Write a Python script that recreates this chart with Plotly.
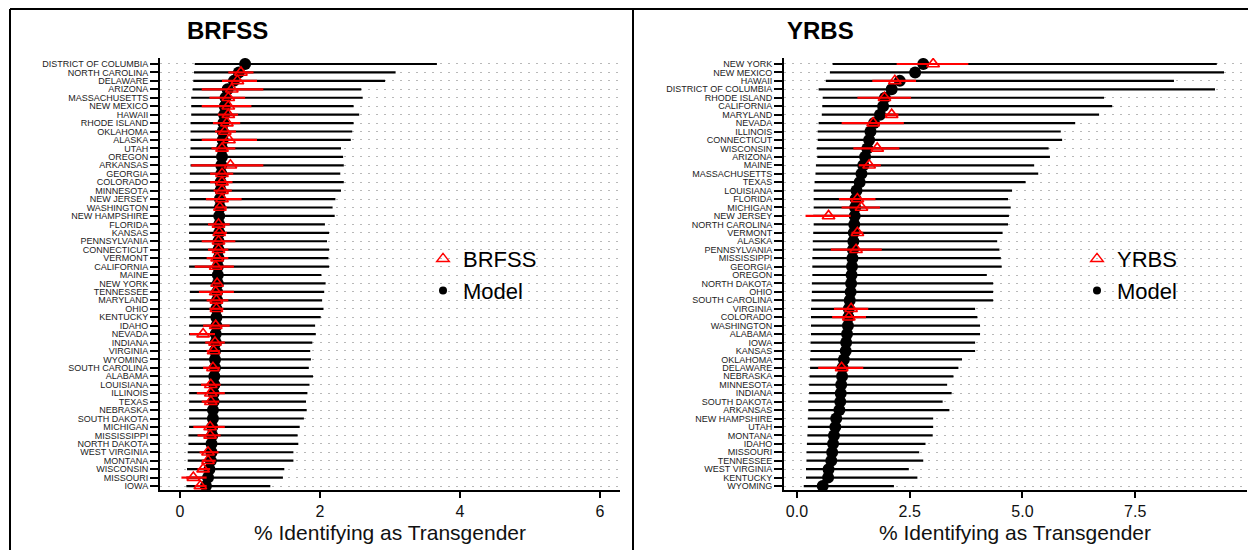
import plotly.graph_objects as go

# ---------------- BRFSS panel data ----------------
brfss_states = [
    "DISTRICT OF COLUMBIA", "NORTH CAROLINA", "DELAWARE", "ARIZONA", "MASSACHUSETTS",
    "NEW MEXICO", "HAWAII", "RHODE ISLAND", "OKLAHOMA", "ALASKA", "UTAH", "OREGON",
    "ARKANSAS", "GEORGIA", "COLORADO", "MINNESOTA", "NEW JERSEY", "WASHINGTON",
    "NEW HAMPSHIRE", "FLORIDA", "KANSAS", "PENNSYLVANIA", "CONNECTICUT", "VERMONT",
    "CALIFORNIA", "MAINE", "NEW YORK", "TENNESSEE", "MARYLAND", "OHIO", "KENTUCKY",
    "IDAHO", "NEVADA", "INDIANA", "VIRGINIA", "WYOMING", "SOUTH CAROLINA", "ALABAMA",
    "LOUISIANA", "ILLINOIS", "TEXAS", "NEBRASKA", "SOUTH DAKOTA", "MICHIGAN",
    "MISSISSIPPI", "NORTH DAKOTA", "WEST VIRGINIA", "MONTANA", "WISCONSIN", "MISSOURI", "IOWA",
]
brfss_model = [
    0.93, 0.84, 0.77, 0.68, 0.65, 0.64, 0.63, 0.62, 0.61, 0.61, 0.60, 0.60, 0.59,
    0.59, 0.58, 0.58, 0.57, 0.57, 0.56, 0.56, 0.56, 0.55, 0.55, 0.55, 0.54, 0.54,
    0.54, 0.53, 0.53, 0.52, 0.52, 0.52, 0.51, 0.51, 0.50, 0.50, 0.50, 0.49, 0.49,
    0.48, 0.48, 0.47, 0.47, 0.46, 0.46, 0.45, 0.45, 0.44, 0.42, 0.40, 0.37,
]
brfss_model_lo = [
    0.21, 0.20, 0.19, 0.18, 0.16, 0.16, 0.16, 0.15, 0.15, 0.15, 0.15, 0.14, 0.15,
    0.14, 0.14, 0.14, 0.14, 0.13, 0.13, 0.13, 0.13, 0.13, 0.13, 0.13, 0.13, 0.14,
    0.14, 0.14, 0.14, 0.14, 0.14, 0.13, 0.13, 0.13, 0.13, 0.13, 0.13, 0.13, 0.13,
    0.13, 0.13, 0.13, 0.13, 0.13, 0.12, 0.12, 0.11, 0.11, 0.10, 0.09, 0.09,
]
brfss_model_hi = [
    3.67, 3.08, 2.93, 2.59, 2.61, 2.48, 2.56, 2.48, 2.46, 2.44, 2.30, 2.33, 2.34,
    2.29, 2.34, 2.30, 2.22, 2.18, 2.21, 2.07, 2.13, 2.10, 2.13, 2.12, 2.13, 2.02,
    2.08, 2.06, 2.03, 2.05, 2.01, 1.93, 1.94, 1.89, 1.86, 1.87, 1.84, 1.90, 1.85,
    1.82, 1.80, 1.81, 1.77, 1.71, 1.68, 1.69, 1.62, 1.62, 1.49, 1.47, 1.29,
]
brfss_obs = [
    None, 0.87, 0.82, 0.74, 0.69, 0.69, 0.69, 0.67, 0.64, 0.70, 0.60, None, 0.72,
    0.60, 0.60, 0.60, 0.60, 0.57, None, 0.55, 0.56, 0.55, 0.55, 0.53, 0.51, None,
    0.53, 0.51, 0.52, 0.52, None, 0.51, 0.33, 0.50, 0.48, None, 0.47, None, 0.44,
    0.44, 0.44, None, None, 0.43, 0.43, None, 0.40, 0.40, 0.33, 0.19, 0.29,
]
brfss_obs_lo = [
    None, 0.69, 0.60, 0.31, 0.42, 0.31, 0.54, 0.47, 0.50, 0.31, 0.45, None, 0.16,
    0.43, 0.43, 0.48, 0.37, 0.50, None, 0.40, 0.48, 0.31, 0.40, 0.38, 0.21, None,
    0.48, 0.27, 0.38, 0.42, None, 0.33, 0.14, 0.36, 0.38, None, 0.33, None, 0.30,
    0.24, 0.31, None, None, 0.19, 0.25, None, 0.28, 0.31, 0.25, 0.02, 0.21,
]
brfss_obs_hi = [
    None, 1.05, 1.10, 1.19, 0.93, 1.02, 0.83, 0.86, 0.80, 1.10, 0.79, None, 1.19,
    0.76, 0.75, 0.74, 0.88, 0.67, None, 0.71, 0.67, 0.79, 0.69, 0.69, 0.77, None,
    0.58, 0.77, 0.69, 0.62, None, 0.71, 0.50, 0.64, 0.57, None, 0.57, None, 0.58,
    0.64, 0.56, None, None, 0.64, 0.58, None, 0.55, 0.51, 0.43, 0.38, 0.38,
]

# ---------------- YRBS panel data ----------------
yrbs_states = [
    "NEW YORK", "NEW MEXICO", "HAWAII", "DISTRICT OF COLUMBIA", "RHODE ISLAND",
    "CALIFORNIA", "MARYLAND", "NEVADA", "ILLINOIS", "CONNECTICUT", "WISCONSIN",
    "ARIZONA", "MAINE", "MASSACHUSETTS", "TEXAS", "LOUISIANA", "FLORIDA", "MICHIGAN",
    "NEW JERSEY", "NORTH CAROLINA", "VERMONT", "ALASKA", "PENNSYLVANIA", "MISSISSIPPI",
    "GEORGIA", "OREGON", "NORTH DAKOTA", "OHIO", "SOUTH CAROLINA", "VIRGINIA",
    "COLORADO", "WASHINGTON", "ALABAMA", "IOWA", "KANSAS", "OKLAHOMA", "DELAWARE",
    "NEBRASKA", "MINNESOTA", "INDIANA", "SOUTH DAKOTA", "ARKANSAS", "NEW HAMPSHIRE",
    "UTAH", "MONTANA", "IDAHO", "MISSOURI", "TENNESSEE", "WEST VIRGINIA", "KENTUCKY", "WYOMING",
]
yrbs_model = [
    2.80, 2.62, 2.28, 2.10, 1.95, 1.91, 1.84, 1.71, 1.63, 1.60, 1.56, 1.51, 1.47,
    1.43, 1.39, 1.32, 1.30, 1.29, 1.28, 1.27, 1.26, 1.25, 1.24, 1.23, 1.22, 1.21,
    1.20, 1.19, 1.17, 1.15, 1.14, 1.13, 1.11, 1.09, 1.08, 1.04, 1.01, 1.00, 0.98,
    0.97, 0.96, 0.94, 0.87, 0.85, 0.82, 0.80, 0.78, 0.76, 0.70, 0.69, 0.57,
]
yrbs_model_lo = [
    0.79, 0.73, 0.64, 0.48, 0.57, 0.56, 0.55, 0.48, 0.46, 0.46, 0.44, 0.45, 0.42,
    0.41, 0.39, 0.37, 0.37, 0.37, 0.36, 0.37, 0.36, 0.35, 0.35, 0.34, 0.34, 0.34,
    0.33, 0.33, 0.32, 0.31, 0.31, 0.31, 0.31, 0.30, 0.30, 0.29, 0.29, 0.28, 0.27,
    0.27, 0.25, 0.25, 0.24, 0.24, 0.23, 0.22, 0.21, 0.21, 0.20, 0.20, 0.15,
]
yrbs_model_hi = [
    9.31, 9.47, 8.36, 9.27, 6.81, 6.99, 6.70, 6.17, 5.85, 5.88, 5.58, 5.61, 5.26,
    5.35, 5.07, 4.77, 4.68, 4.74, 4.70, 4.68, 4.56, 4.44, 4.49, 4.52, 4.54, 4.21,
    4.35, 4.35, 4.35, 3.95, 4.00, 4.06, 4.06, 3.95, 3.95, 3.66, 3.58, 3.47, 3.33,
    3.43, 3.23, 3.38, 3.02, 3.02, 3.01, 2.85, 2.71, 2.80, 2.48, 2.67, 2.15,
]
yrbs_obs = [
    3.02, None, 2.17, None, 1.94, None, 2.10, 1.69, None, None, 1.78, None, 1.60,
    None, None, None, 1.34, 1.43, 0.70, None, 1.34, None, 1.31, None, None, None,
    None, None, None, 1.20, 1.15, None, None, None, None, None, 0.99, None, None,
    None, None, None, None, None, None, None, None, None, None, None, None,
]
yrbs_obs_lo = [
    2.21, None, 1.67, None, 1.34, None, 1.95, 0.99, None, None, 1.25, None, 1.37,
    None, None, None, 0.93, 0.99, 0.19, None, 1.21, None, 0.75, None, None, None,
    None, None, None, 0.82, 0.78, None, None, None, None, None, 0.47, None, None,
    None, None, None, None, None, None, None, None, None, None, None, None,
]
yrbs_obs_hi = [
    3.80, None, 2.64, None, 2.53, None, 2.25, 2.37, None, None, 2.27, None, 1.86,
    None, None, None, 1.74, 1.84, 1.19, None, 1.47, None, 1.88, None, None, None,
    None, None, None, 1.58, 1.53, None, None, None, None, None, 1.47, None, None,
    None, None, None, None, None, None, None, None, None, None, None, None,
]

brfss_ticks = [0, 2, 4, 6]
brfss_ticktext = ["0", "2", "4", "6"]
yrbs_ticks = [0, 2.5, 5, 7.5]
yrbs_ticktext = ["0.0", "2.5", "5.0", "7.5"]
x_title = "% Identifying as Transgender"

# the page body adds an 8px offset; lay out in page pixels minus that offset
OFF = 8
W, H = 1256 - OFF, 550 - OFF
RED = "#ff0000"
FONT = "Liberation Sans, Arial, sans-serif"


def px(v):
    return (v - OFF) / W


def py(v):
    return 1 - (v - OFF) / H


def segs(lo, hi):
    xs, ys = [], []
    for i, (a, b) in enumerate(zip(lo, hi)):
        if a is None or b is None:
            continue
        xs += [a, b, None]
        ys += [i, i, None]
    return xs, ys


fig = go.Figure()


def add_panel(states, model, mlo, mhi, obs, olo, ohi, name, xa, ya, legend):
    idx = list(range(len(states)))
    x, y = segs(mlo, mhi)
    fig.add_trace(go.Scatter(x=x, y=y, mode="lines", line=dict(color="black", width=2.2),
                             showlegend=False, hoverinfo="skip", xaxis=xa, yaxis=ya))
    fig.add_trace(go.Scatter(x=model, y=idx, mode="markers",
                             marker=dict(symbol="circle", size=12, color="black"),
                             showlegend=False, xaxis=xa, yaxis=ya))
    x, y = segs(olo, ohi)
    fig.add_trace(go.Scatter(x=x, y=y, mode="lines", line=dict(color=RED, width=2.2),
                             showlegend=False, hoverinfo="skip", xaxis=xa, yaxis=ya))
    fig.add_trace(go.Scatter(x=obs, y=idx, mode="markers",
                             marker=dict(symbol="triangle-up-open", size=11, color=RED,
                                         line=dict(width=1.6, color=RED)),
                             showlegend=False, xaxis=xa, yaxis=ya))
    # legend entries
    fig.add_trace(go.Scatter(x=[None], y=[None], mode="markers", name=name,
                             marker=dict(symbol="triangle-up-open", size=11, color=RED,
                                         line=dict(width=1.4, color=RED)),
                             legend=legend, legendgroup=name + "a", xaxis=xa, yaxis=ya))
    fig.add_trace(go.Scatter(x=[None], y=[None], mode="markers", name="Model",
                             marker=dict(symbol="circle", size=8, color="black"),
                             legend=legend, legendgroup=name + "b", xaxis=xa, yaxis=ya))


add_panel(brfss_states, brfss_model, brfss_model_lo, brfss_model_hi,
          brfss_obs, brfss_obs_lo, brfss_obs_hi, "BRFSS", "x", "y", "legend")
add_panel(yrbs_states, yrbs_model, yrbs_model_lo, yrbs_model_hi,
          yrbs_obs, yrbs_obs_lo, yrbs_obs_hi, "YRBS", "x2", "y2", "legend2")

ydom = [py(490), py(58)]
yrange = [50.47, -0.71]

common_x = dict(showline=True, linecolor="black", linewidth=2, ticks="outside",
                ticklen=6, tickwidth=1.5, tickcolor="black", showgrid=False,
                zeroline=False, tickfont=dict(family=FONT, size=16, color="#111"),
                tickmode="array")
common_y = dict(showline=True, linecolor="black", linewidth=2, ticks="outside",
                ticklen=8, tickwidth=1.5, tickcolor="black", showgrid=True,
                gridcolor="#b8b8b8", gridwidth=1, griddash="2px,6px", zeroline=False,
                tickfont=dict(family=FONT, size=9, color="#222"), tickmode="array",
                range=yrange, domain=ydom)

legend_common = dict(xanchor="left", yanchor="top", traceorder="grouped",
                     tracegroupgap=0, bgcolor="rgba(0,0,0,0)",
                     font=dict(family=FONT, size=22, color="black"), itemwidth=30)

fig.update_layout(
    width=W, height=H, margin=dict(l=0, r=0, t=0, b=0),
    paper_bgcolor="white", plot_bgcolor="white",
    font=dict(family=FONT),
    xaxis=dict(common_x, domain=[px(160), px(620)], range=[-0.286, 6.286],
               tickvals=brfss_ticks, ticktext=brfss_ticktext, anchor="y"),
    yaxis=dict(common_y, anchor="x", tickvals=list(range(len(brfss_states))),
               ticktext=brfss_states),
    xaxis2=dict(common_x, domain=[px(784), px(1247)], range=[-0.288, 9.98],
                tickvals=yrbs_ticks, ticktext=yrbs_ticktext, anchor="y2"),
    yaxis2=dict(common_y, anchor="x2", tickvals=list(range(len(yrbs_states))),
                ticktext=yrbs_states),
    legend=dict(legend_common, x=px(423), y=py(238)),
    legend2=dict(legend_common, x=px(1077), y=py(238)),
    showlegend=True,
)

# panel titles and axis titles
fig.add_annotation(text="BRFSS", x=px(185), y=py(31), xref="paper", yref="paper",
                   xanchor="left", yanchor="middle", showarrow=False,
                   font=dict(family=FONT, size=24, color="black", weight="bold"))
fig.add_annotation(text="YRBS", x=px(785), y=py(31), xref="paper", yref="paper",
                   xanchor="left", yanchor="middle", showarrow=False,
                   font=dict(family=FONT, size=24, color="black", weight="bold"))
fig.add_annotation(text=x_title, x=px(390), y=py(532), xref="paper", yref="paper",
                   xanchor="center", yanchor="middle", showarrow=False,
                   font=dict(family=FONT, size=21, color="#111"))
fig.add_annotation(text=x_title, x=px(1015), y=py(532), xref="paper", yref="paper",
                   xanchor="center", yanchor="middle", showarrow=False,
                   font=dict(family=FONT, size=21, color="#111"))

# frame lines
frame = dict(color="black", width=2)
fig.add_shape(type="line", xref="paper", yref="paper", x0=px(10), x1=1, y0=py(9), y1=py(9), line=frame)
fig.add_shape(type="line", xref="paper", yref="paper", x0=px(10), x1=px(10), y0=0, y1=py(9), line=frame)
fig.add_shape(type="line", xref="paper", yref="paper", x0=px(633), x1=px(633), y0=0, y1=py(9), line=frame)

fig.write_html("out.html")
